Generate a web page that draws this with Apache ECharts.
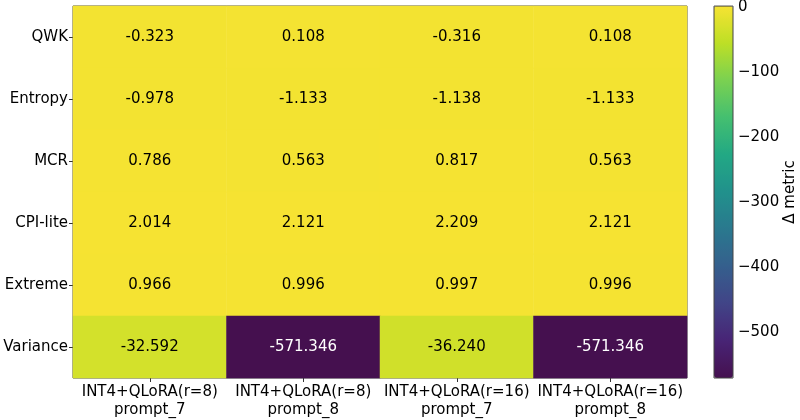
<!DOCTYPE html>
<html>
<head>
<meta charset="utf-8">
<script src="https://cdn.jsdelivr.net/npm/echarts@6/dist/echarts.min.js"></script>
<style>
  html, body { margin: 0; padding: 0; background: #fff; }
  #chart { width: 800px; height: 420px; }
</style>
</head>
<body>
<div id="chart"></div>
<script>
var columns = [
	"INT4+QLoRA(r=8)\nprompt_7",
	"INT4+QLoRA(r=8)\nprompt_8",
	"INT4+QLoRA(r=16)\nprompt_7",
	"INT4+QLoRA(r=16)\nprompt_8"
];
var metrics = ["QWK", "Entropy", "MCR", "CPI-lite", "Extreme", "Variance"];

var qwk = [-0.323, 0.108, -0.316, 0.108];
var entropy = [-0.978, -1.133, -1.138, -1.133];
var mcr = [0.786, 0.563, 0.817, 0.563];
var cpiLite = [2.014, 2.121, 2.209, 2.121];
var extreme = [0.966, 0.996, 0.997, 0.996];
var variance = [-32.592, -571.346, -36.240, -571.346];

var colorbarTicks = [0, -100, -200, -300, -400, -500];

var rows = [qwk, entropy, mcr, cpiLite, extreme, variance];
var vmin = Math.min.apply(null, [].concat.apply([], rows));
var vmax = Math.max.apply(null, [].concat.apply([], rows));

// viridis, ends toned a touch like the reference image
var viridis = ["#45104f", "#482475", "#414487", "#355f8d", "#2a788e", "#21918c",
	"#22a884", "#44bf70", "#7ad151", "#bddf26", "#f6e332"];

var data = [];
rows.forEach(function (vals, r) {
	vals.forEach(function (v, c) {
		var frac = (v - vmin) / (vmax - vmin);
		data.push({
			value: [c, r, v],
			label: { color: frac < 0.5 ? "#ffffff" : "#000000" }
		});
	});
});

var font = "DejaVu Sans";
var myChart = echarts.init(document.getElementById("chart"));
myChart.setOption({
	animation: false,
	textStyle: { fontFamily: font },
	grid: [
		{ left: 73, top: 6, width: 614, height: 372, show: true, borderColor: "#444", borderWidth: 1, backgroundColor: "transparent" },
		{ left: 714, top: 6, width: 19, height: 372, show: true, borderColor: "#444", borderWidth: 1, backgroundColor: "transparent", z: 10 }
	],
	xAxis: [
		{
			type: "category",
			data: columns,
			gridIndex: 0,
			axisLine: { show: false },
			axisTick: { show: true, alignWithLabel: true, interval: 0, length: 4, lineStyle: { color: "#333" } },
			splitLine: { show: false },
			axisLabel: { interval: 0, color: "#000", fontSize: 15, lineHeight: 18, margin: 5, fontFamily: font }
		},
		{
			type: "value",
			gridIndex: 1,
			show: false,
			min: 0,
			max: 1
		}
	],
	yAxis: [
		{
			type: "category",
			data: metrics,
			inverse: true,
			gridIndex: 0,
			axisLine: { show: false },
			axisTick: { show: true, alignWithLabel: true, interval: 0, length: 4, lineStyle: { color: "#333" } },
			splitLine: { show: false },
			axisLabel: { interval: 0, color: "#000", fontSize: 15, margin: 5, fontFamily: font }
		},
		{
			type: "value",
			gridIndex: 1,
			position: "right",
			min: vmin,
			max: vmax,
			axisLine: { show: false },
			splitLine: { show: false },
			axisTick: { show: true, length: 4, customValues: colorbarTicks, lineStyle: { color: "#333" } },
			axisLabel: {
				color: "#000", fontSize: 15, margin: 5, fontFamily: font,
				customValues: colorbarTicks,
				formatter: function (v) { return v < 0 ? "\u2212" + Math.abs(v) : String(v); }
			},
			name: "\u0394 metric",
			nameLocation: "middle",
			nameRotate: 90,
			nameGap: 50,
			nameTextStyle: { color: "#000", fontSize: 15, fontFamily: font }
		}
	],
	visualMap: {
		type: "continuous",
		min: vmin,
		max: vmax,
		seriesIndex: 0,
		calculable: false,
		hoverLink: false,
		text: null,
		left: 714,
		top: 6,
		itemWidth: 19,
		itemHeight: 372,
		padding: 0,
		inRange: { color: viridis }
	},
	series: [
		{
			type: "heatmap",
			xAxisIndex: 0,
			yAxisIndex: 0,
			data: data,
			label: {
				show: true,
				fontSize: 15,
				fontFamily: font,
				formatter: function (p) { return p.value[2].toFixed(3); }
			},
			itemStyle: { borderWidth: 0 },
			emphasis: { disabled: true }
		}
	]
});

window.addEventListener("resize", function () { myChart.resize(); });
</script>
</body>
</html>
